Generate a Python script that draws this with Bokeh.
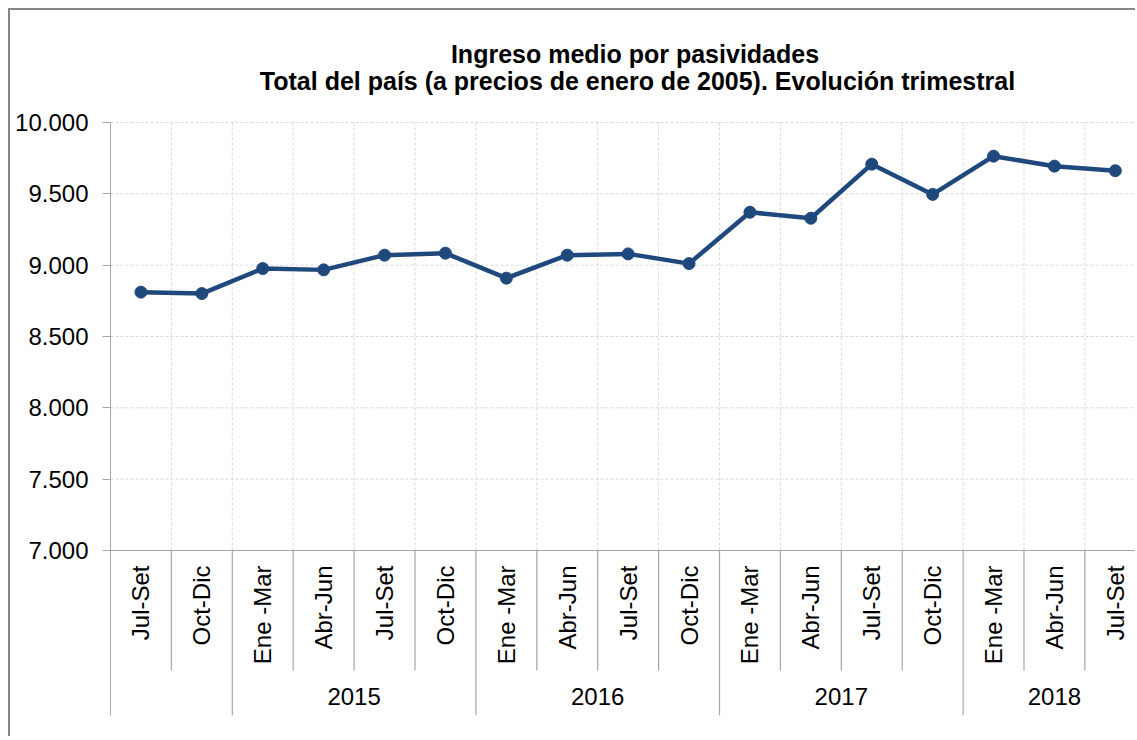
import math
from bokeh.plotting import figure
from bokeh.models import Range1d, LinearAxis, FixedTicker, ColumnDataSource
from bokeh.core.properties import value
from bokeh.embed import file_html
from bokeh.resources import INLINE

# ---------------- data ----------------
quarters = ["Jul-Set", "Oct-Dic",
            "Ene -Mar", "Abr-Jun", "Jul-Set", "Oct-Dic",
            "Ene -Mar", "Abr-Jun", "Jul-Set", "Oct-Dic",
            "Ene -Mar", "Abr-Jun", "Jul-Set", "Oct-Dic",
            "Ene -Mar", "Abr-Jun", "Jul-Set"]
ingreso = [8811, 8801,
           8976, 8967, 9070, 9084,
           8909, 9070, 9079, 9011,
           9371, 9329, 9708, 9496,
           9764, 9694, 9662]
year_labels = ["", "2015", "2016", "2017", "2018"]
year_sizes = [2, 4, 4, 4, 3]
y_ticks = [7000, 7500, 8000, 8500, 9000, 9500, 10000]
y_tick_labels = ["7.000", "7.500", "8.000", "8.500", "9.000", "9.500", "10.000"]
title_lines = ["Ingreso medio por pasividades",
               "Total del país (a precios de enero de 2005). Evolución trimestral"]

# ---------------- layout constants (pixels) ----------------
FONT = "Liberation Sans"
LINE_COLOR = "#1F497D"
AXIS_COLOR = "#a6a6a6"
GRID_COLOR = "#d9d9d9"
BORDER_COLOR = "#878787"

Y_MIN, Y_MAX = 7000, 10000
PLOT_H_PX = 428.0          # 10000 -> 7000
BAND_PX = 165.0            # label band below the axis
TOP_PX = 112.0             # title area above the plotting area
QSEP_PX = 120.0            # quarter separator length
CAT_PX = 60.9
FRAME_W = 1027
TITLE_X_PX = [524.5, 527.0]        # line centres, from the plot's left edge
TITLE_BASE_PX = [69.0, 42.0]       # text anchors, above the 10.000 line

px_per_unit = PLOT_H_PX / (Y_MAX - Y_MIN)
y_start = Y_MIN - BAND_PX / px_per_unit
y_end = Y_MAX + TOP_PX / px_per_unit
y_qsep = Y_MIN - QSEP_PX / px_per_unit
x_end = FRAME_W / CAT_PX

n = len(quarters)
xs = [i + 0.5 for i in range(n)]

p = figure(width=1127, height=728,
           x_range=Range1d(0, x_end), y_range=Range1d(y_start, y_end),
           x_axis_type=None, y_axis_type=None,
           output_backend="svg", toolbar_location=None,
           min_border_left=100, min_border_right=0,
           min_border_top=0, min_border_bottom=23,
           outline_line_color=None, background_fill_color="white",
           border_fill_color="white")
p.styles = {"border-left": f"2px solid {BORDER_COLOR}",
            "border-top": f"2px solid {BORDER_COLOR}",
            "margin-left": "8px", "margin-top": "8px"}

# title lines
p.text(x=[v / CAT_PX for v in TITLE_X_PX],
       y=[Y_MAX + v / px_per_unit for v in TITLE_BASE_PX],
       text=title_lines, text_align="center", text_baseline="alphabetic",
       text_font=value(FONT), text_font_size=value("25px"),
       text_font_style="bold", text_color="black")

# y axis
yaxis = LinearAxis(ticker=FixedTicker(ticks=y_ticks), bounds=(y_start, Y_MAX),
                   major_label_overrides={v: s for v, s in zip(y_ticks, y_tick_labels)},
                   axis_line_color=AXIS_COLOR, major_tick_line_color=AXIS_COLOR,
                   major_tick_out=8, major_tick_in=0, minor_tick_line_color=None,
                   major_label_standoff=14,
                   major_label_text_font=FONT, major_label_text_font_size="24px",
                   major_label_text_color="black")
p.add_layout(yaxis, "left")

# horizontal dashed gridlines
hg = [v for v in y_ticks if v > Y_MIN]
p.segment(x0=[0] * len(hg), x1=[x_end] * len(hg), y0=hg, y1=hg,
          line_color=GRID_COLOR, line_width=1, line_dash="3 2")

# vertical dashed gridlines at category boundaries
vb = [b for b in range(1, n) if b < x_end]
p.segment(x0=vb, x1=vb, y0=[Y_MIN] * len(vb), y1=[Y_MAX] * len(vb),
          line_color=GRID_COLOR, line_width=1, line_dash="3 2")

# x axis line
p.segment(x0=[0], x1=[x_end], y0=[Y_MIN], y1=[Y_MIN],
          line_color=AXIS_COLOR, line_width=1.2)

# group boundaries
starts = []
acc = 0
for s in year_sizes:
    starts.append(acc)
    acc += s
year_bounds = starts[1:]
q_bounds = [b for b in vb if b not in year_bounds]
p.segment(x0=q_bounds, x1=q_bounds, y0=[Y_MIN] * len(q_bounds),
          y1=[y_qsep] * len(q_bounds), line_color=AXIS_COLOR, line_width=1.2)
p.segment(x0=year_bounds, x1=year_bounds, y0=[Y_MIN] * len(year_bounds),
          y1=[y_start] * len(year_bounds), line_color=AXIS_COLOR, line_width=1.2)

# quarter labels
p.text(x=xs, y=[Y_MIN] * n, text=quarters, angle=math.pi / 2,
       text_align="right", text_baseline="middle", y_offset=15,
       text_font=value(FONT), text_font_size=value("24px"), text_color="black")

# year labels
centers = [st + sz / 2 for st, sz in zip(starts, year_sizes)]
p.text(x=centers, y=[Y_MIN] * len(centers), text=year_labels,
       text_align="center", text_baseline="middle", y_offset=146,
       text_font=value(FONT), text_font_size=value("24px"), text_color="black")

# data series
src = ColumnDataSource(dict(x=xs, y=ingreso, q=quarters))
p.line("x", "y", source=src, line_color=LINE_COLOR, line_width=4.5)
p.scatter("x", "y", source=src, size=12, fill_color=LINE_COLOR, line_color=LINE_COLOR)

open("out.html", "w").write(file_html(p, INLINE))
